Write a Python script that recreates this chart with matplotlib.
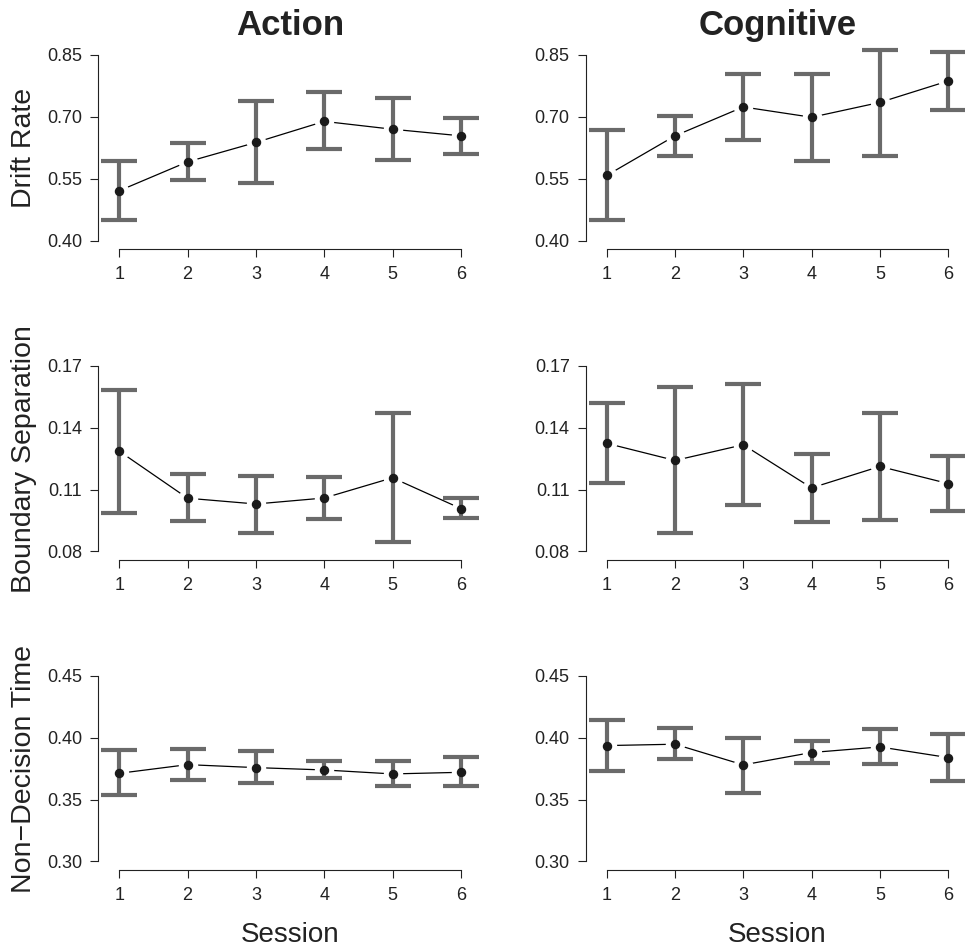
import matplotlib
matplotlib.use("Agg")
import matplotlib.pyplot as plt

plt.rcParams['font.family'] = ['Liberation Sans', 'DejaVu Sans']

sessions = [1, 2, 3, 4, 5, 6]
conditions = ["Action", "Cognitive"]
params = ["Drift Rate", "Boundary Separation", "Non\u2212Decision Time"]
yticks = [[0.40, 0.55, 0.70, 0.85],
          [0.08, 0.11, 0.14, 0.17],
          [0.30, 0.35, 0.40, 0.45]]

# drift rate
drift_action = [0.521, 0.591, 0.638, 0.689, 0.670, 0.654]
drift_action_lo = [0.449, 0.546, 0.539, 0.621, 0.596, 0.611]
drift_action_hi = [0.594, 0.636, 0.738, 0.760, 0.745, 0.697]
drift_cog = [0.558, 0.654, 0.724, 0.699, 0.735, 0.787]
drift_cog_lo = [0.451, 0.606, 0.643, 0.593, 0.606, 0.717]
drift_cog_hi = [0.667, 0.701, 0.805, 0.805, 0.862, 0.856]

# boundary separation
bound_action = [0.1286, 0.1058, 0.1030, 0.1059, 0.1157, 0.1008]
bound_action_lo = [0.0987, 0.0946, 0.0891, 0.0957, 0.0845, 0.0962]
bound_action_hi = [0.1583, 0.1173, 0.1168, 0.1162, 0.1473, 0.1059]
bound_cog = [0.1324, 0.1241, 0.1317, 0.1108, 0.1212, 0.1129]
bound_cog_lo = [0.1132, 0.0889, 0.1027, 0.0943, 0.0954, 0.0995]
bound_cog_hi = [0.1518, 0.1595, 0.1611, 0.1274, 0.1471, 0.1262]

# non-decision time
ndt_action = [0.3712, 0.3782, 0.3758, 0.3739, 0.3707, 0.3720]
ndt_action_lo = [0.3537, 0.3661, 0.3637, 0.3674, 0.3610, 0.3607]
ndt_action_hi = [0.3898, 0.3909, 0.3893, 0.3809, 0.3809, 0.3842]
ndt_cog = [0.3936, 0.3947, 0.3780, 0.3880, 0.3925, 0.3839]
ndt_cog_lo = [0.3734, 0.3826, 0.3553, 0.3796, 0.3788, 0.3650]
ndt_cog_hi = [0.4144, 0.4074, 0.4001, 0.3971, 0.4068, 0.4028]

data = [[(drift_action, drift_action_lo, drift_action_hi),
         (drift_cog, drift_cog_lo, drift_cog_hi)],
        [(bound_action, bound_action_lo, bound_action_hi),
         (bound_cog, bound_cog_lo, bound_cog_hi)],
        [(ndt_action, ndt_action_lo, ndt_action_hi),
         (ndt_cog, ndt_cog_lo, ndt_cog_hi)]]

W, H = 965, 947
txt = '#222222'
bar_col = '#6a6a6a'

fig = plt.figure(figsize=(W / 100, H / 100), dpi=100)

col_left = [98.3, 585.7]
row_top = [46.6, 357.4, 667.4]
ax_w, ax_h = 383.0, 202.4
xlim = (0.693, 6.3)

for r in range(3):
    lo_t, hi_t = yticks[r][0], yticks[r][-1]
    pad = 0.045 * (hi_t - lo_t)
    for c in range(2):
        ax = fig.add_axes([col_left[c] / W, 1 - (row_top[r] + ax_h) / H, ax_w / W, ax_h / H])
        m, lo, hi = data[r][c]
        yerr = [[mi - l for mi, l in zip(m, lo)], [h - mi for mi, h in zip(m, hi)]]
        # line with gaps around the points (like R type="b")
        ax.plot(sessions, m, color='black', lw=0.9, zorder=1, clip_on=False)
        ax.plot(sessions, m, 'o', ms=13, color='white', zorder=2, clip_on=False)
        ax.errorbar(sessions, m, yerr=yerr, fmt='none', ecolor=bar_col, elinewidth=3,
                    capsize=13, capthick=3, zorder=3, clip_on=False)
        ax.plot(sessions, m, 'o', ms=5.8, color='#1a1a1a', zorder=4, clip_on=False)

        ax.set_xlim(*xlim)
        ax.set_ylim(lo_t - pad, hi_t + pad)
        ax.set_xticks(sessions)
        ax.set_yticks(yticks[r])
        ax.set_yticklabels(["%.2f" % v for v in yticks[r]])
        for s in ['top', 'right']:
            ax.spines[s].set_visible(False)
        ax.spines['left'].set_bounds(lo_t, hi_t)
        ax.spines['bottom'].set_bounds(1, 6)
        for s in ['left', 'bottom']:
            ax.spines[s].set_color(txt)
            ax.spines[s].set_linewidth(0.8)
        ax.tick_params(axis='both', length=5.5, width=0.8, color=txt, labelcolor=txt, labelsize=13)
        ax.tick_params(axis='y', pad=6)
        ax.tick_params(axis='x', pad=7)
        ax.patch.set_visible(False)

        if r == 0:
            ax.annotate(conditions[c], xy=(3.5, 1), xycoords=('data', 'axes fraction'),
                        xytext=(0, 8), textcoords='offset points', ha='center', va='baseline',
                        fontsize=25, fontweight='bold', color=txt)
        if r == 2:
            ax.annotate("Session", xy=(3.5, 0), xycoords=('data', 'axes fraction'),
                        xytext=(0, -52), textcoords='offset points', ha='center', va='baseline',
                        fontsize=20, color=txt)
    yc = 1 - (row_top[r] + ax_h / 2) / H
    fig.text(24 / W, yc, params[r], rotation=90, ha='center', va='center', fontsize=20.5, color=txt)

fig.savefig("out.png", dpi=100)
